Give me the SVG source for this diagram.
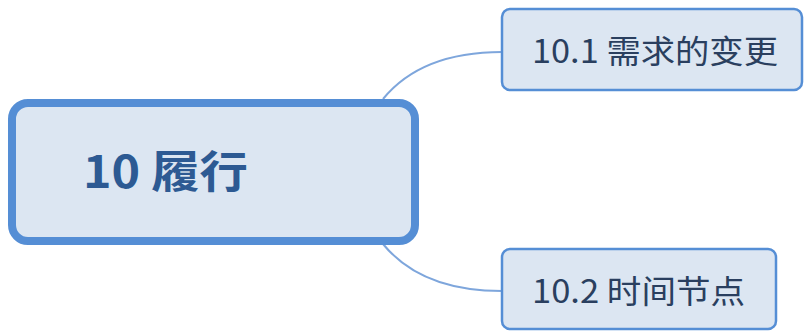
<svg xmlns="http://www.w3.org/2000/svg" width="804" height="332" viewBox="0 0 804 332">
<style>
.box{fill:#DCE6F2;stroke:#558ED5}
.conn{fill:none;stroke:#7EA6DC;stroke-width:2}
.t{font-family:"Noto Sans CJK SC","Noto Sans",sans-serif;fill:#2A3F5F}
</style>
<rect width="804" height="332" fill="#FFFFFF"/>
<g id="connectors">
<path class="conn" d="M383,99 C410,66 450,52 502,52"/>
<path class="conn" d="M383,244 C410,277 450,291 502,291"/>
</g>
<g id="root">
<rect class="box" x="12" y="103" width="403" height="138" rx="16" stroke-width="8"/>
<text class="t" x="83" y="188" font-size="44" font-weight="bold" fill="#2D5A93" style="fill:#2D5A93" textLength="165" lengthAdjust="spacingAndGlyphs">10 履行</text>
</g>
<g id="n1">
<rect class="box" x="502" y="9" width="300" height="81" rx="8" stroke-width="2.5"/>
<text class="t" x="532" y="63" font-size="32" textLength="246" lengthAdjust="spacingAndGlyphs">10.1 需求的变更</text>
</g>
<g id="n2">
<rect class="box" x="502" y="249" width="274" height="80" rx="8" stroke-width="2.5"/>
<text class="t" x="532" y="303" font-size="32" textLength="213" lengthAdjust="spacingAndGlyphs">10.2 时间节点</text>
</g>
</svg>
